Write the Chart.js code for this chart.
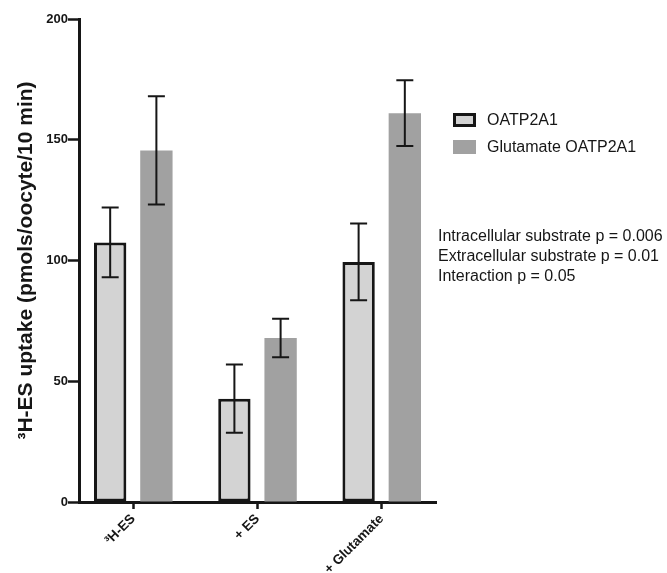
<!DOCTYPE html>
<html lang="en">
<head>
    <meta charset="UTF-8">
    <title>3H-ES uptake</title>
    <script src="https://cdn.jsdelivr.net/npm/chart.js"></script>
    <style>
        body {
            margin: 0;
            background: #fff;
        }
        #wrap {
            width: 667px;
            height: 573px;
        }
    </style>
</head>
<body>
<div id="wrap">
    <canvas id="uptakeChart" width="667" height="573"></canvas>
</div>
<script>
    // values
    const categories = ['³H-ES', '+ ES', '+ Glutamate'];
    const seriesNames = ['OATP2A1', 'Glutamate OATP2A1'];
    const oatpMeans = [107.5, 42.8, 99.4];
    const oatpErrors = [14.4, 14.1, 15.9];
    const gluMeans = [145.6, 67.9, 161.0];
    const gluErrors = [22.4, 8.0, 13.6];
    const yTicks = [0, 50, 100, 150, 200];
    const statLines = [
        'Intracellular substrate p = 0.006',
        'Extracellular substrate p = 0.01',
        'Interaction p = 0.05'
    ];

    const FONT = "'Liberation Sans', Arial, Helvetica, sans-serif";
    const INK = '#161616';
    const LIGHT = '#d3d3d3';
    const DARK = '#a1a1a1';

    const toPoints = (vals) => vals.map((v, i) => ({x: i, y: v}));

    // error bars (mean +/- error) on every bar
    const errorBars = {
        id: 'errorBars',
        afterDatasetsDraw(chart) {
            const ctx = chart.ctx;
            const yScale = chart.scales.y;
            const errs = [oatpErrors, gluErrors];
            const means = [oatpMeans, gluMeans];
            ctx.save();
            ctx.strokeStyle = INK;
            ctx.lineWidth = 2;
            chart.data.datasets.forEach((ds, d) => {
                chart.getDatasetMeta(d).data.forEach((bar, i) => {
                    const top = yScale.getPixelForValue(means[d][i] + errs[d][i]);
                    const bot = yScale.getPixelForValue(means[d][i] - errs[d][i]);
                    const x = bar.x;
                    ctx.beginPath();
                    ctx.moveTo(x, top);
                    ctx.lineTo(x, bot);
                    ctx.moveTo(x - 8.5, top);
                    ctx.lineTo(x + 8.5, top);
                    ctx.moveTo(x - 8.5, bot);
                    ctx.lineTo(x + 8.5, bot);
                    ctx.stroke();
                });
            });
            ctx.restore();
        }
    };

    // legend + statistics text on the right
    const sideText = {
        id: 'sideText',
        afterDraw(chart) {
            const ctx = chart.ctx;
            ctx.save();
            ctx.font = '16px ' + FONT;
            ctx.fillStyle = INK;
            ctx.textBaseline = 'middle';
            ctx.textAlign = 'left';

            const rows = [120, 147];
            chart.data.datasets.forEach((ds, d) => {
                const y = rows[d];
                ctx.fillStyle = ds.backgroundColor;
                ctx.fillRect(453, y - 7, 23, 14);
                if (ds.borderWidth) {
                    ctx.strokeStyle = ds.borderColor;
                    ctx.lineWidth = 3;
                    ctx.strokeRect(454.5, y - 5.5, 20, 11);
                }
                ctx.fillStyle = INK;
                ctx.fillText(ds.label, 487, y + 1);
            });

            statLines.forEach((line, i) => {
                ctx.fillText(line, 438, 237 + i * 20);
            });
            ctx.restore();
        }
    };

    new Chart(document.getElementById('uptakeChart'), {
        type: 'bar',
        data: {
            datasets: [{
                label: seriesNames[0],
                data: toPoints(oatpMeans),
                backgroundColor: LIGHT,
                borderColor: INK,
                borderWidth: 3,
                borderSkipped: false
            }, {
                label: seriesNames[1],
                data: toPoints(gluMeans),
                backgroundColor: DARK,
                borderWidth: 0
            }]
        },
        options: {
            responsive: false,
            animation: false,
            categoryPercentage: 0.744,
            barPercentage: 0.7,
            layout: {
                padding: {top: 19, right: 231, bottom: 0, left: 0}
            },
            plugins: {
                legend: {display: false},
                tooltip: {enabled: false}
            },
            scales: {
                x: {
                    type: 'linear',
                    offset: false,
                    min: -0.437,
                    max: 2.437,
                    afterBuildTicks(scale) {
                        scale.ticks = categories.map((c, i) => ({value: i}));
                    },
                    afterFit(scale) {
                        scale.height = 71;
                    },
                    border: {display: true, color: INK, width: 3},
                    grid: {
                        display: true,
                        offset: false,
                        drawOnChartArea: false,
                        drawTicks: true,
                        tickLength: 7,
                        tickWidth: 2.5,
                        color: INK
                    },
                    ticks: {
                        autoSkip: false,
                        minRotation: 45,
                        maxRotation: 45,
                        padding: 2,
                        color: INK,
                        font: {family: FONT, size: 13.5, weight: 'bold'},
                        callback: (v) => categories[v]
                    }
                },
                y: {
                    min: 0,
                    max: 200,
                    afterBuildTicks(scale) {
                        scale.ticks = yTicks.map(v => ({value: v}));
                    },
                    afterFit(scale) {
                        scale.width = 79;
                    },
                    border: {display: true, color: INK, width: 3},
                    grid: {
                        display: true,
                        drawOnChartArea: false,
                        drawTicks: true,
                        tickLength: 11,
                        tickWidth: 2.5,
                        color: INK
                    },
                    ticks: {
                        padding: 0,
                        color: INK,
                        font: {family: FONT, size: 13, weight: 'bold'}
                    },
                    title: {
                        display: true,
                        text: '³H-ES uptake (pmols/oocyte/10 min)',
                        color: INK,
                        padding: {top: 14, bottom: 0},
                        font: {family: FONT, size: 21, weight: 'bold'}
                    }
                }
            }
        },
        plugins: [errorBars, sideText]
    });
</script>
</body>
</html>
